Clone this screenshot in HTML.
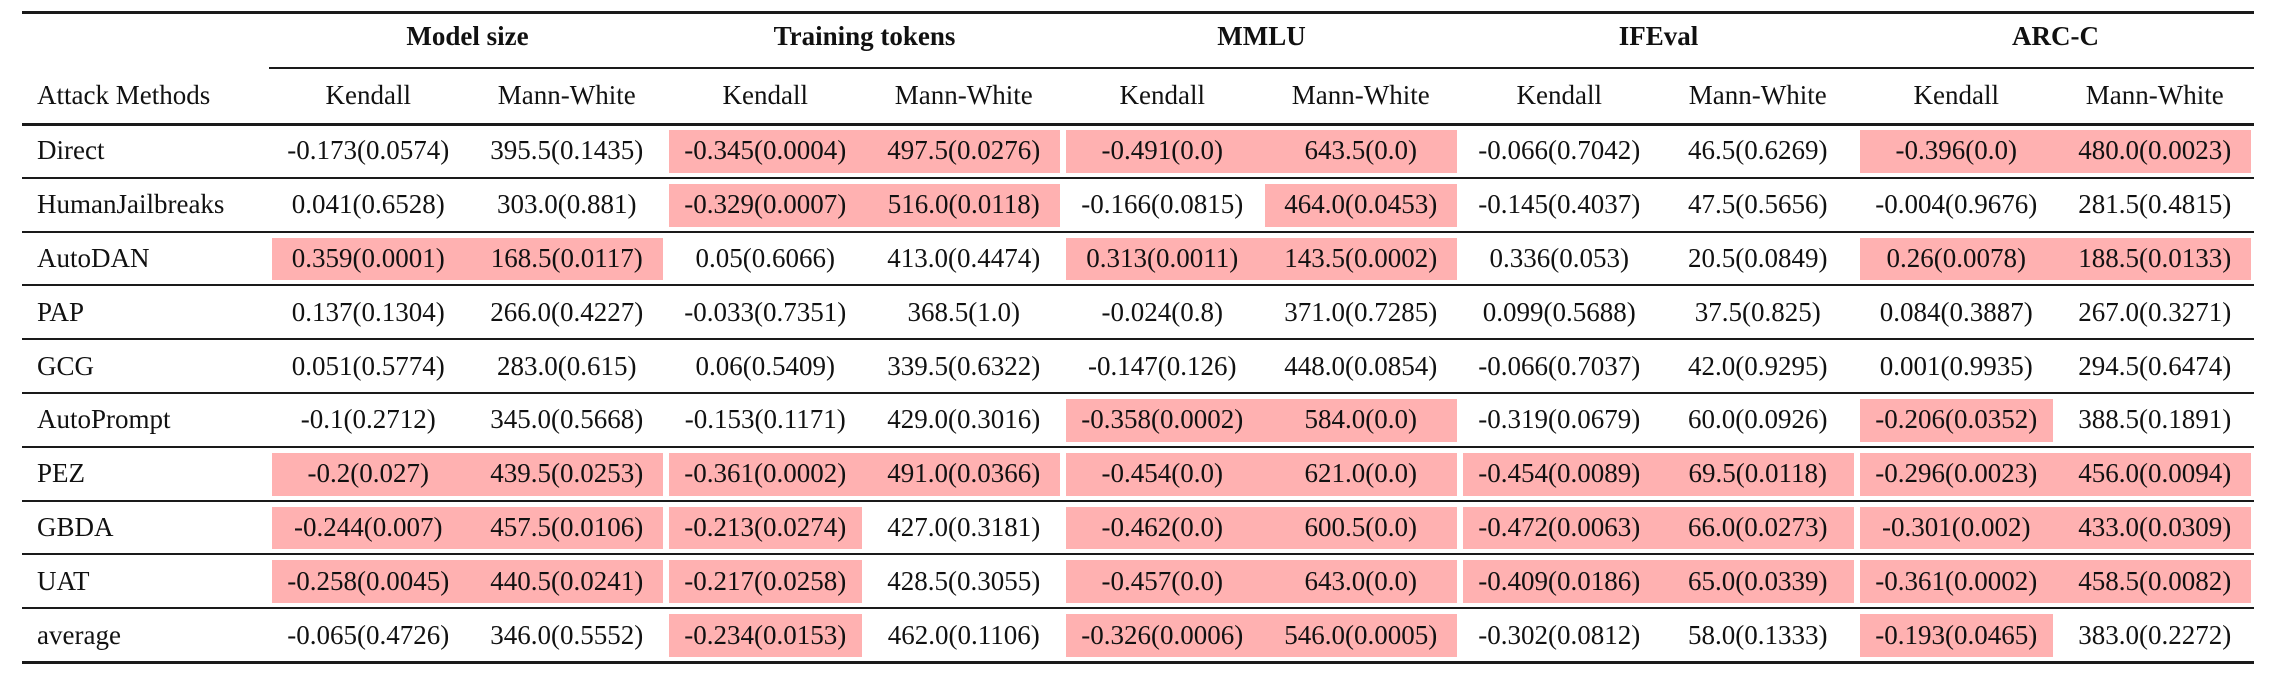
<!DOCTYPE html>
<html><head><meta charset="utf-8">
<style>
html,body{margin:0;padding:0;background:#fff;}
#t{position:relative;width:2280px;height:680px;overflow:hidden;font-family:"Liberation Serif",serif;font-size:27px;color:#111;}
.c{position:absolute;display:flex;align-items:center;justify-content:center;white-space:nowrap;}
.r{position:absolute;background:#1a1a1a;}
.h{position:absolute;background:#ffb1b1;}
</style></head><body>
<div id="t"></div>
<script>
const groups=["Model size","Training tokens","MMLU","IFEval","ARC-C"];
const subs=["Kendall","Mann-White"];
const methods=["Direct","HumanJailbreaks","AutoDAN","PAP","GCG","AutoPrompt","PEZ","GBDA","UAT","average"];
const values=[
["-0.173(0.0574)","395.5(0.1435)","-0.345(0.0004)","497.5(0.0276)","-0.491(0.0)","643.5(0.0)","-0.066(0.7042)","46.5(0.6269)","-0.396(0.0)","480.0(0.0023)"],
["0.041(0.6528)","303.0(0.881)","-0.329(0.0007)","516.0(0.0118)","-0.166(0.0815)","464.0(0.0453)","-0.145(0.4037)","47.5(0.5656)","-0.004(0.9676)","281.5(0.4815)"],
["0.359(0.0001)","168.5(0.0117)","0.05(0.6066)","413.0(0.4474)","0.313(0.0011)","143.5(0.0002)","0.336(0.053)","20.5(0.0849)","0.26(0.0078)","188.5(0.0133)"],
["0.137(0.1304)","266.0(0.4227)","-0.033(0.7351)","368.5(1.0)","-0.024(0.8)","371.0(0.7285)","0.099(0.5688)","37.5(0.825)","0.084(0.3887)","267.0(0.3271)"],
["0.051(0.5774)","283.0(0.615)","0.06(0.5409)","339.5(0.6322)","-0.147(0.126)","448.0(0.0854)","-0.066(0.7037)","42.0(0.9295)","0.001(0.9935)","294.5(0.6474)"],
["-0.1(0.2712)","345.0(0.5668)","-0.153(0.1171)","429.0(0.3016)","-0.358(0.0002)","584.0(0.0)","-0.319(0.0679)","60.0(0.0926)","-0.206(0.0352)","388.5(0.1891)"],
["-0.2(0.027)","439.5(0.0253)","-0.361(0.0002)","491.0(0.0366)","-0.454(0.0)","621.0(0.0)","-0.454(0.0089)","69.5(0.0118)","-0.296(0.0023)","456.0(0.0094)"],
["-0.244(0.007)","457.5(0.0106)","-0.213(0.0274)","427.0(0.3181)","-0.462(0.0)","600.5(0.0)","-0.472(0.0063)","66.0(0.0273)","-0.301(0.002)","433.0(0.0309)"],
["-0.258(0.0045)","440.5(0.0241)","-0.217(0.0258)","428.5(0.3055)","-0.457(0.0)","643.0(0.0)","-0.409(0.0186)","65.0(0.0339)","-0.361(0.0002)","458.5(0.0082)"],
["-0.065(0.4726)","346.0(0.5552)","-0.234(0.0153)","462.0(0.1106)","-0.326(0.0006)","546.0(0.0005)","-0.302(0.0812)","58.0(0.1333)","-0.193(0.0465)","383.0(0.2272)"]];
const highlight=[
[0,0,1,1,1,1,0,0,1,1],
[0,0,1,1,0,1,0,0,0,0],
[1,1,0,0,1,1,0,0,1,1],
[0,0,0,0,0,0,0,0,0,0],
[0,0,0,0,0,0,0,0,0,0],
[0,0,0,0,1,1,0,0,1,0],
[1,1,1,1,1,1,1,1,1,1],
[1,1,1,0,1,1,1,1,1,1],
[1,1,1,0,1,1,1,1,1,1],
[0,0,1,0,1,1,0,0,1,0]];

const T=document.getElementById('t');
const L=22,R=2254,C0=269,CW=(R-C0)/10,HR=124,RH=53.8;
function add(cls,x,y,w,h,txt,name){
  const d=document.createElement('div');d.className=cls;
  d.style.left=x+'px';d.style.top=y+'px';d.style.width=w+'px';d.style.height=h+'px';
  if(txt!==undefined)d.textContent=txt;
  
  
  T.appendChild(d);return d;
}
add('r',L,11,R-L,2.5,undefined,'top-rule');
add('r',L,HR-1,R-L,2.5,undefined,'header-rule');
add('r',C0,67,R-C0,1.8,undefined,'group-underline');
groups.forEach((g,i)=>{
  const x=C0+i*2*CW;
  const e=add('c',x,18,2*CW,36,g,'group-header');e.style.fontWeight='bold';
  subs.forEach((s,j)=>add('c',x+j*CW,76,CW,38,s,'subheader-'+s.toLowerCase()));
});
const am=add('c',L+15,76,240,38,'Attack Methods','attack-methods-header');am.style.justifyContent='flex-start';
methods.forEach((m,r)=>{
  const y=HR+r*RH;
  for(let c=0;c<10;c++){
    if(!highlight[r][c])continue;
    const left=(c%2===1&&highlight[r][c-1])?C0+c*CW:C0+c*CW+3;
    const right=(c%2===0&&highlight[r][c+1])?C0+(c+1)*CW:C0+(c+1)*CW-3;
    add('h',left,y+6,right-left,RH-11,undefined,'highlight-cell');
  }
  const mc=add('c',L+15,y,240,RH,m,'method-label');mc.style.justifyContent='flex-start';
  for(let c=0;c<10;c++) add('c',C0+c*CW,y,CW,RH,values[r][c],'value-cell');
  add('r',L,y+RH-1,R-L,r===methods.length-1?2.5:2,undefined,'row-rule');
});
</script>
</body></html>
